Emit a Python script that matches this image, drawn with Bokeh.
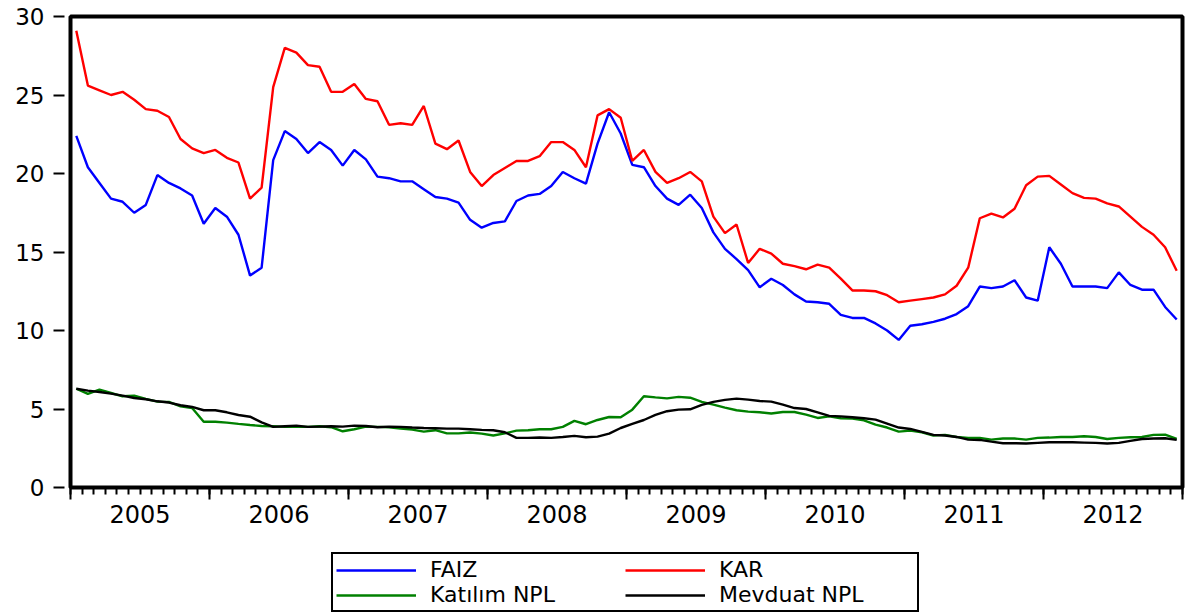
from bokeh.plotting import figure
from bokeh.layouts import column
from bokeh.models import (FixedTicker, LinearAxis, Legend, LegendItem, Range1d,
                          ColumnDataSource)
from bokeh.embed import file_html
from bokeh.resources import INLINE

years = ["2005", "2006", "2007", "2008", "2009", "2010", "2011", "2012"]

faiz = [22.4, 20.4, 19.4, 18.4, 18.2, 17.5, 18.0, 19.9, 19.4, 19.05, 18.6, 16.8,
        17.8, 17.25, 16.1, 13.5, 14.0, 20.85, 22.7, 22.2, 21.3, 22.0, 21.5, 20.5,
        21.5, 20.9, 19.8, 19.7, 19.5, 19.5, 19.0, 18.5, 18.4, 18.15, 17.05, 16.55,
        16.85, 16.95, 18.25, 18.6, 18.7, 19.2, 20.1, 19.7, 19.35, 21.9, 23.9, 22.55,
        20.55, 20.4, 19.2, 18.4, 18.0, 18.65, 17.8, 16.25, 15.2, 14.55, 13.85, 12.75,
        13.3, 12.9, 12.3, 11.85, 11.8, 11.7, 11.0, 10.8, 10.8, 10.45, 10.0, 9.4,
        10.3, 10.4, 10.55, 10.75, 11.05, 11.55, 12.8, 12.7, 12.8, 13.2, 12.1, 11.9,
        15.3, 14.25, 12.8, 12.8, 12.8, 12.7, 13.7, 12.9, 12.6, 12.6, 11.5, 10.7]

kar = [29.1, 25.6, 25.3, 25.0, 25.2, 24.7, 24.1, 24.0, 23.6, 22.2, 21.6, 21.3,
       21.5, 21.0, 20.7, 18.4, 19.1, 25.5, 28.0, 27.7, 26.9, 26.8, 25.2, 25.2,
       25.7, 24.75, 24.6, 23.1, 23.2, 23.1, 24.3, 21.9, 21.55, 22.1, 20.1, 19.2,
       19.9, 20.35, 20.8, 20.8, 21.1, 22.0, 22.0, 21.5, 20.4, 23.7, 24.1, 23.55,
       20.8, 21.5, 20.1, 19.4, 19.7, 20.1, 19.5, 17.25, 16.2, 16.75, 14.3, 15.2,
       14.9, 14.25, 14.1, 13.9, 14.2, 14.0, 13.3, 12.55, 12.55, 12.5, 12.25, 11.8,
       11.9, 12.0, 12.1, 12.3, 12.85, 14.0, 17.15, 17.45, 17.2, 17.75, 19.25, 19.8,
       19.85, 19.3, 18.75, 18.45, 18.4, 18.1, 17.9, 17.25, 16.6, 16.1, 15.3, 13.8]

katilim_npl = [6.29, 5.96, 6.23, 6.02, 5.81, 5.85, 5.64, 5.47, 5.45, 5.17, 5.06, 4.19,
               4.19, 4.13, 4.05, 3.98, 3.92, 3.90, 3.86, 3.88, 3.86, 3.90, 3.84, 3.58,
               3.71, 3.88, 3.86, 3.84, 3.75, 3.69, 3.56, 3.65, 3.45, 3.45, 3.50, 3.43,
               3.31, 3.45, 3.62, 3.65, 3.71, 3.71, 3.86, 4.24, 4.03, 4.30, 4.49, 4.47,
               4.96, 5.81, 5.74, 5.68, 5.77, 5.72, 5.45, 5.28, 5.09, 4.92, 4.83, 4.79,
               4.71, 4.81, 4.81, 4.64, 4.43, 4.53, 4.41, 4.39, 4.28, 4.00, 3.82, 3.56,
               3.62, 3.52, 3.31, 3.35, 3.22, 3.16, 3.16, 3.05, 3.12, 3.12, 3.05, 3.16,
               3.18, 3.22, 3.22, 3.26, 3.22, 3.09, 3.16, 3.20, 3.22, 3.35, 3.37, 3.09]

mevduat_npl = [6.29, 6.17, 6.08, 5.98, 5.85, 5.70, 5.62, 5.49, 5.41, 5.24, 5.13, 4.92,
               4.92, 4.79, 4.62, 4.51, 4.15, 3.86, 3.90, 3.94, 3.86, 3.88, 3.90, 3.88,
               3.94, 3.92, 3.84, 3.88, 3.86, 3.82, 3.79, 3.77, 3.75, 3.75, 3.71, 3.67,
               3.65, 3.52, 3.16, 3.16, 3.18, 3.16, 3.22, 3.29, 3.20, 3.24, 3.43, 3.79,
               4.05, 4.30, 4.62, 4.86, 4.96, 4.98, 5.26, 5.45, 5.58, 5.66, 5.60, 5.51,
               5.47, 5.28, 5.06, 5.00, 4.79, 4.56, 4.53, 4.47, 4.41, 4.32, 4.07, 3.82,
               3.73, 3.54, 3.35, 3.31, 3.22, 3.05, 3.03, 2.92, 2.82, 2.82, 2.80, 2.84,
               2.88, 2.88, 2.88, 2.86, 2.84, 2.80, 2.84, 2.97, 3.09, 3.12, 3.14, 3.03]

series_names = ["FAIZ", "KAR", "Katılım NPL", "Mevduat NPL"]
series_colors = ["#0000FF", "#FF0000", "#008000", "#000000"]

y_ticks = [0, 5, 10, 15, 20, 25, 30]

n_months = len(faiz)
month_x = [i + 0.5 for i in range(n_months)]
src = ColumnDataSource(dict(x=month_x, faiz=faiz, kar=kar,
                            kat=katilim_npl, mev=mevduat_npl))

FONT = "DejaVu Sans"

p = figure(width=1186, height=545, output_backend="svg", toolbar_location=None,
           x_range=Range1d(0, n_months), y_range=Range1d(0, 30),
           x_axis_type=None, min_border_left=70, min_border_right=4,
           min_border_top=16, min_border_bottom=58)
p.grid.visible = False
p.outline_line_color = "black"
p.outline_line_width = 4
p.outline_line_alpha = 1
p.background_fill_color = "white"
p.border_fill_color = "white"

# y axis
ya = p.yaxis[0]
ya.ticker = FixedTicker(ticks=y_ticks, minor_ticks=[])
ya.axis_line_color = None
ya.major_tick_in = -6
ya.major_tick_out = 17
ya.major_tick_line_width = 2
ya.major_tick_line_color = "black"
ya.minor_tick_line_color = None
ya.major_label_standoff = 9
ya.major_label_text_font = FONT
ya.major_label_text_font_size = "23px"
ya.major_label_text_color = "black"

# x axis: tick marks (year boundaries long, months short)
year_bounds = [12 * k for k in range(len(years) + 1)]
month_bounds = list(range(n_months + 1))
xa1 = LinearAxis(ticker=FixedTicker(ticks=year_bounds, minor_ticks=month_bounds),
                 axis_line_color=None,
                 major_tick_in=0, major_tick_out=12, major_tick_line_width=2,
                 minor_tick_in=0, minor_tick_out=7, minor_tick_line_width=2,
                 major_tick_line_color="black", minor_tick_line_color="black",
                 major_label_text_font_size="1px", major_label_text_alpha=0,
                 major_label_standoff=0)
p.add_layout(xa1, "below")

# x axis: year labels centred in each year
year_mid = [12 * k + 6 for k in range(len(years))]
xa2 = LinearAxis(ticker=FixedTicker(ticks=year_mid, minor_ticks=[]),
                 major_label_overrides={m: y for m, y in zip(year_mid, years)},
                 axis_line_color=None, major_tick_line_color=None,
                 minor_tick_line_color=None, major_tick_out=0, major_tick_in=0,
                 major_label_standoff=5,
                 major_label_text_font=FONT, major_label_text_font_size="24px",
                 major_label_text_color="black")
p.add_layout(xa2, "below")

cols = ["faiz", "kar", "kat", "mev"]
for c, col in zip(cols, series_colors):
    p.line("x", c, source=src, line_color=col, line_width=2.4)

# legend panel underneath the chart
lg = figure(width=1186, height=71, output_backend="svg", toolbar_location=None,
            x_range=Range1d(0, 1), y_range=Range1d(0, 1),
            x_axis_type=None, y_axis_type=None,
            min_border_left=0, min_border_right=0, min_border_top=0,
            min_border_bottom=0)
lg.grid.visible = False
lg.outline_line_color = None
lg.background_fill_color = "white"
lg.border_fill_color = "white"

# off-range placeholder lines, used only as legend glyph sources
items = []
for name, col in zip(series_names, series_colors):
    r = lg.line(x=[5, 6], y=[5, 6], line_color=col, line_width=2.4)
    items.append(LegendItem(label=name, renderers=[r]))

legend = Legend(items=items, orientation="horizontal", ncols=2,
                location=(261, 4),
                label_text_font=FONT, label_text_font_size="22px",
                label_text_color="black",
                glyph_width=80, glyph_height=20, label_standoff=14,
                label_width=195, label_height=20,
                spacing=0, padding=3, margin=0,
                border_line_color="black", border_line_width=2,
                border_line_alpha=1,
                background_fill_color="white", background_fill_alpha=1)
lg.add_layout(legend)

layout = column(p, lg, spacing=0)
open("out.html", "w").write(file_html(layout, INLINE))
